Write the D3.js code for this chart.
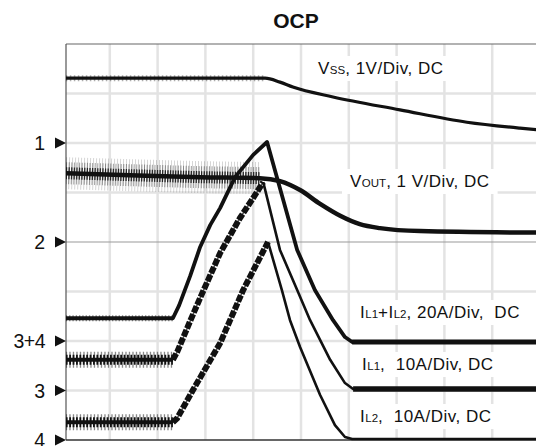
<!DOCTYPE html>
<html>
<head>
<meta charset="utf-8">
<script src="https://cdn.jsdelivr.net/npm/d3@7"></script>
<style>
  body { margin: 0; background: #fff; }
  svg text { font-family: "Liberation Sans", Arial, sans-serif; fill: #111; }
</style>
</head>
<body>
<svg id="chart" width="536" height="446"></svg>
<script>
// scope traces: [time (div), level (div above bottom edge)]
const vss = [[0.08, 7.31], [4.25, 7.31], [4.56, 7.23], [4.83, 7.13], [5.67, 6.93],
             [7.07, 6.67], [8.47, 6.42], [9.58, 6.30], [9.92, 6.27]];
const vout = [[0.08, 5.39], [1.42, 5.35], [2.89, 5.31], [4.14, 5.29], [4.56, 5.23],
              [4.98, 5.05], [5.40, 4.77], [5.82, 4.53], [6.23, 4.36], [6.65, 4.28],
              [7.49, 4.22], [9.92, 4.19]];
const iSum = [[0.08, 2.46], [2.32, 2.46], [2.45, 2.72], [2.68, 3.31], [2.89, 3.90],
              [3.10, 4.34], [3.31, 4.69], [3.62, 5.31], [4.00, 5.76], [4.29, 6.02],
              [4.92, 3.84], [5.29, 3.03], [5.67, 2.42], [5.92, 2.08], [6.07, 1.98], [9.92, 1.98]];
const iL1 = [[0.08, 1.62], [2.32, 1.62], [2.41, 1.78], [2.68, 2.40], [2.89, 2.87],
             [3.31, 3.78], [3.72, 4.48], [4.04, 4.95], [4.21, 5.21], [4.56, 3.84],
             [4.92, 3.03], [5.19, 2.42], [5.61, 1.62], [5.92, 1.15], [6.09, 1.03], [9.92, 1.03]];
const iL2 = [[0.08, 0.36], [2.32, 0.36], [2.41, 0.44], [2.74, 1.01], [3.31, 1.96],
             [3.79, 3.03], [4.31, 4.00], [4.60, 3.03], [4.77, 2.42], [4.98, 1.88],
             [5.40, 0.91], [5.71, 0.30], [5.92, 0.06], [6.07, 0.02], [9.92, 0.02]];
const tripTime = 4.25;   // switching stops here

const markerNames = ["1", "2", "3+4", "3", "4"];
const markerLevels = [6, 4, 2, 1, 0];

const traceLabels = [
  [["V"], ["SS", 1], [", 1V/Div, DC"]],
  [["V"], ["OUT", 1], [", 1 V/Div, DC"]],
  [["I"], ["L1", 1], ["+I"], ["L2", 1], [", 20A/Div,  DC"]],
  [["I"], ["L1", 1], [",  10A/Div, DC"]],
  [["I"], ["L2", 1], [",  10A/Div, DC"]]
];

const svg = d3.select("#chart");
const x = d3.scaleLinear().domain([0, 10]).range([62, 540]);
const y = d3.scaleLinear().domain([0, 8]).range([440, 44]);
const fLeft = 66, fRight = 536, fTop = 44, fBottom = 440;

// grid
svg.append("g").selectAll("line").data(d3.range(1, 10)).join("line")
  .attr("x1", d => x(d)).attr("x2", d => x(d))
  .attr("y1", fTop).attr("y2", fBottom)
  .attr("stroke", "#e3e3e3").attr("stroke-width", 2.5);
svg.append("g").selectAll("line").data(d3.range(1, 8)).join("line")
  .attr("x1", fLeft).attr("x2", fRight)
  .attr("y1", d => y(d)).attr("y2", d => y(d))
  .attr("stroke", d => d === 4 ? "#999" : "#e3e3e3")
  .attr("stroke-width", d => d === 4 ? 1.2 : 2.5);

// frame
svg.append("line").attr("x1", fLeft).attr("x2", fRight).attr("y1", fTop).attr("y2", fTop)
  .attr("stroke", "#666").attr("stroke-width", 1.2);
svg.append("line").attr("x1", fLeft).attr("x2", fLeft).attr("y1", fTop).attr("y2", fBottom)
  .attr("stroke", "#555").attr("stroke-width", 1.2);
svg.append("line").attr("x1", fLeft).attr("x2", fRight).attr("y1", fBottom).attr("y2", fBottom)
  .attr("stroke", "#333").attr("stroke-width", 1.5);

svg.append("clipPath").attr("id", "clip")
  .append("rect").attr("x", fLeft).attr("y", 0).attr("width", fRight - fLeft).attr("height", 446);
const traces = svg.append("g").attr("clip-path", "url(#clip)");

const smooth = d3.line().x(d => x(d[0])).y(d => y(d[1])).curve(d3.curveMonotoneX);
const straight = d3.line().x(d => x(d[0])).y(d => y(d[1]));

function draw(pts, gen, width, opts = {}) {
  traces.append("path").attr("d", gen(pts))
    .attr("fill", "none").attr("stroke", "#111")
    .attr("stroke-width", width)
    .attr("stroke-dasharray", opts.dash || null)
    .attr("stroke-opacity", opts.op == null ? 1 : opts.op)
    .attr("stroke-linejoin", "round");
}

// V_SS
draw(vss.filter(d => d[0] <= tripTime), straight, 6, { dash: "1.5 2.5", op: 0.35 });
draw(vss, smooth, 3.2);

// V_OUT with switching noise
const voutNoisy = vout.filter(d => d[0] <= tripTime);
draw(voutNoisy, straight, 32, { dash: "0.8 2.2", op: 0.22 });
draw(voutNoisy, straight, 22, { dash: "1 1.6", op: 0.4 });
draw(voutNoisy, straight, 12, { dash: "1.3 1.3", op: 0.85 });
draw(vout, smooth, 4.5);

// inductor currents
function current(pts, rippleBand) {
  const flat = pts.slice(0, 2);
  const peak = d3.maxIndex(pts, d => d[1]);
  const ramp = pts.slice(1, peak + 1);
  if (rippleBand) {
    draw(flat, straight, 16, { dash: "1.3 2.2", op: 0.5 });
    draw(flat, straight, 10, { dash: "1.8 1.6", op: 1 });
    draw(flat, straight, 4);
    draw(ramp, straight, 6, { dash: "7 1.6", op: 1 });
    draw(ramp, straight, 1.6, { op: 0.7 });
    draw(pts.slice(peak), straight, 2.6);
  } else {
    draw(flat, straight, 6, { dash: "1.3 2", op: 0.5 });
    draw(pts, straight, 3.8);
  }
}
current(iSum, false);
current(iL1, true);
current(iL2, true);

// thick steady lines after trip
draw(iL1.slice(-2), straight, 5.5);
draw(iSum.slice(-2), straight, 5);

// channel markers
const mk = svg.append("g");
markerNames.forEach((name, i) => {
  const yy = y(markerLevels[i]);
  mk.append("path")
    .attr("d", `M55,${yy - 5.5}L66,${yy}L55,${yy + 5.5}Z`).attr("fill", "#111");
  mk.append("text").attr("x", 45).attr("y", yy).attr("dy", "0.36em")
    .attr("text-anchor", "end").attr("font-size", 19.5)
    .attr("letter-spacing", name.length > 1 ? -0.5 : 0).text(name);
});

// title
svg.append("text").attr("x", 296).attr("y", 28).attr("text-anchor", "middle")
  .attr("font-size", 21).attr("font-weight", "bold").text("OCP");

// trace labels with white boxes
const labelPos = [[318, 74], [350, 187], [360, 318], [362, 370], [360, 422]];
traceLabels.forEach((parts, i) => {
  const g = svg.append("g");
  const t = g.append("text").attr("x", labelPos[i][0]).attr("y", labelPos[i][1])
    .attr("font-size", 17).attr("letter-spacing", 0.5).attr("xml:space", "preserve");
  parts.forEach(p => t.append("tspan").attr("font-size", p[1] ? 11.5 : null)
    .attr("letter-spacing", p[1] ? 0 : null).text(p[0]));
  const b = t.node().getBBox();
  g.insert("rect", "text").attr("x", b.x - 8).attr("y", b.y - 3)
    .attr("width", b.width + 16).attr("height", b.height + 6).attr("fill", "#fff");
});
</script>
</body>
</html>
